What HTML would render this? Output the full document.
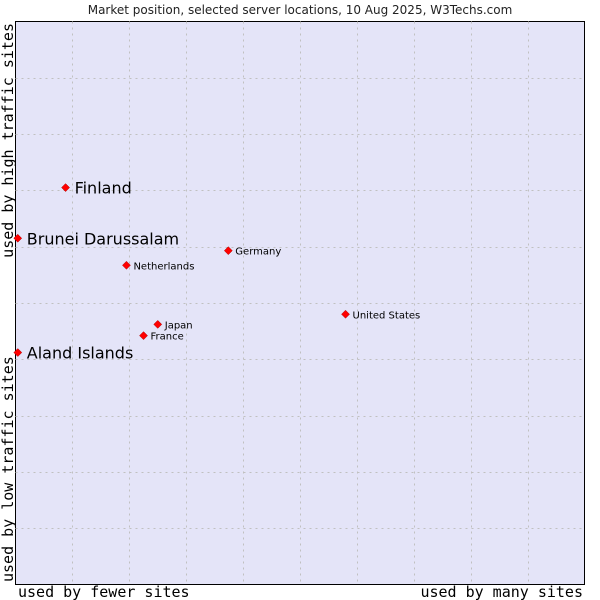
<!DOCTYPE html>
<html><head><meta charset="utf-8"><style>
body{margin:0;background:#fff;}
svg{display:block;}
</style></head><body>
<svg id="chart" width="600" height="600" xmlns="http://www.w3.org/2000/svg">
<text x="300" y="14" text-anchor="middle" font-family="DejaVu Sans, sans-serif" font-size="12" fill="#222">Market position, selected server locations, 10 Aug 2025, W3Techs.com</text>
<rect x="15.5" y="21.5" width="569" height="563" fill="#e4e4f8" stroke="#000" stroke-width="1"/>
<g id="grid"></g>
<g id="points"></g>
<text x="18" y="597" font-family="DejaVu Sans Mono, monospace" font-size="15" fill="#000">used by fewer sites</text>
<text x="583" y="597" text-anchor="end" font-family="DejaVu Sans Mono, monospace" font-size="15" fill="#000">used by many sites</text>
<text transform="translate(13,582) rotate(-90)" font-family="DejaVu Sans Mono, monospace" font-size="15" fill="#000">used by low traffic sites</text>
<text transform="translate(13,23) rotate(-90)" text-anchor="end" font-family="DejaVu Sans Mono, monospace" font-size="15" fill="#000">used by high traffic sites</text>
</svg>
<script>
const names = ["Finland","Brunei Darussalam","Aland Islands","Germany","Netherlands","United States","Japan","France"];
const xValues = [8.8,0.4,0.4,37.4,19.5,58.0,25.0,22.5];
const yValues = [70.5,61.5,41.2,59.3,56.7,48.0,46.2,44.2];
const highlighted = [true,true,true,false,false,false,false,false];
const L=15.5,T=21.5,W=569,H=563;
const NS="http://www.w3.org/2000/svg";
function sx(v){return L+v/100*W;}
function sy(v){return T+H-v/100*H;}
const grid=document.getElementById('grid');
for(let i=1;i<10;i++){
  const v=document.createElementNS(NS,'line');
  
  
  v.setAttribute('x1',Math.round(sx(i*10))+0.5);v.setAttribute('x2',Math.round(sx(i*10))+0.5);
  v.setAttribute('y1',T);v.setAttribute('y2',T+H);
  v.setAttribute('stroke','#c0c0c0');v.setAttribute('stroke-dasharray','2,4');
  grid.appendChild(v);
  const h=document.createElementNS(NS,'line');
  
  
  h.setAttribute('y1',Math.round(sy(i*10))+0.5);h.setAttribute('y2',Math.round(sy(i*10))+0.5);
  h.setAttribute('x1',L);h.setAttribute('x2',L+W);
  h.setAttribute('stroke','#c0c0c0');h.setAttribute('stroke-dasharray','2,4');
  grid.appendChild(h);
}
const pts=document.getElementById('points');
for(let i=0;i<names.length;i++){
  const x=sx(xValues[i]),y=sy(yValues[i]);
  const d=document.createElementNS(NS,'path');
  
  
  d.setAttribute('d',`M${x} ${y-4}L${x+4} ${y}L${x} ${y+4}L${x-4} ${y}Z`);
  d.setAttribute('fill','#f00');d.setAttribute('stroke','#a00');d.setAttribute('stroke-width','0.5');
  pts.appendChild(d);
  const t=document.createElementNS(NS,'text');
  
  
  t.setAttribute('x',x+(highlighted[i]?9:7));
  t.setAttribute('y',y+(highlighted[i]?6:4));
  t.setAttribute('font-family','DejaVu Sans, sans-serif');
  t.setAttribute('font-size',highlighted[i]?'16':'10');
  t.setAttribute('fill','#000');
  t.textContent=names[i];
  pts.appendChild(t);
}
</script>
</body></html>
